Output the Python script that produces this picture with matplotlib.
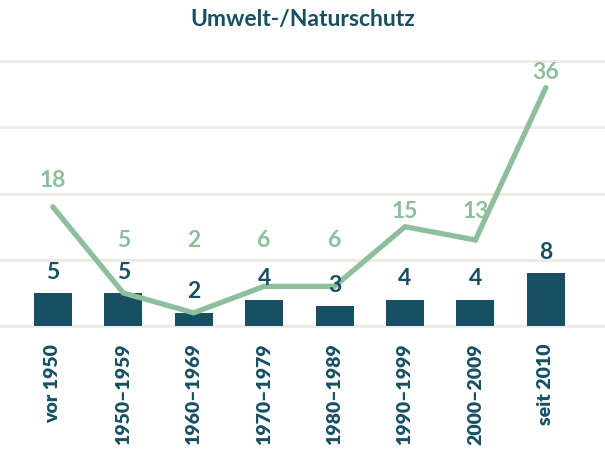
import numpy as np
import matplotlib.pyplot as plt

# data
categories = ["vor 1950", "1950–1959", "1960–1969", "1970–1979",
              "1980–1989", "1990–1999", "2000–2009", "seit 2010"]
bar_vals = [5, 5, 2, 4, 3, 4, 4, 8]
line_vals = [18, 5, 2, 6, 6, 15, 13, 36]
grid_vals = [0, 10, 20, 30, 40]

# label heights for the line values (placed to avoid the bar labels)
line_lbl_y = [22.2, 13.1, 13.1, 13.1, 13.1, 17.4, 17.4, 38.5]

dark = "#174f63"
green = "#8dbf9c"
gridc = "#eeeae4"

plt.rcParams['font.family'] = ['Lato', 'DejaVu Sans']

fig = plt.figure(figsize=(6.05, 4.6), dpi=100)
ax = fig.add_axes([0, 0.289, 1, 0.576])
x = np.arange(len(categories))
ax.set_xlim(-0.75, 7.84)
ax.set_ylim(0, 40)

for g in grid_vals:
    ax.axhline(g, color=gridc, lw=2.2, zorder=0, clip_on=False)

ax.bar(x, bar_vals, width=0.54, color=dark, zorder=2)
ax.plot(x, line_vals, color=green, lw=3.8, solid_capstyle='round',
        solid_joinstyle='miter', zorder=3)

for xi, v in zip(x, bar_vals):
    ax.text(xi, v + 3.3, str(v), ha='center', va='center', color=dark,
            fontsize=16.5, fontweight='bold', zorder=4)
for xi, v, ly in zip(x, line_vals, line_lbl_y):
    ax.text(xi, ly, str(v), ha='center', va='center', color=green,
            fontsize=16.5, fontweight='bold', zorder=4, clip_on=False)

ax.set_xticks(x)
ax.set_xticklabels(categories, rotation=90, va='top', ha='center',
                   color=dark, fontsize=14, fontweight='heavy')
ax.tick_params(axis='x', length=0, pad=12)
ax.set_yticks([])
for s in ax.spines.values():
    s.set_visible(False)

fig.text(0.5, 0.957, "Umwelt-/Naturschutz", ha='center', va='center',
         color=dark, fontsize=16.5, fontweight='bold')

fig.savefig("out.png", dpi=100)
